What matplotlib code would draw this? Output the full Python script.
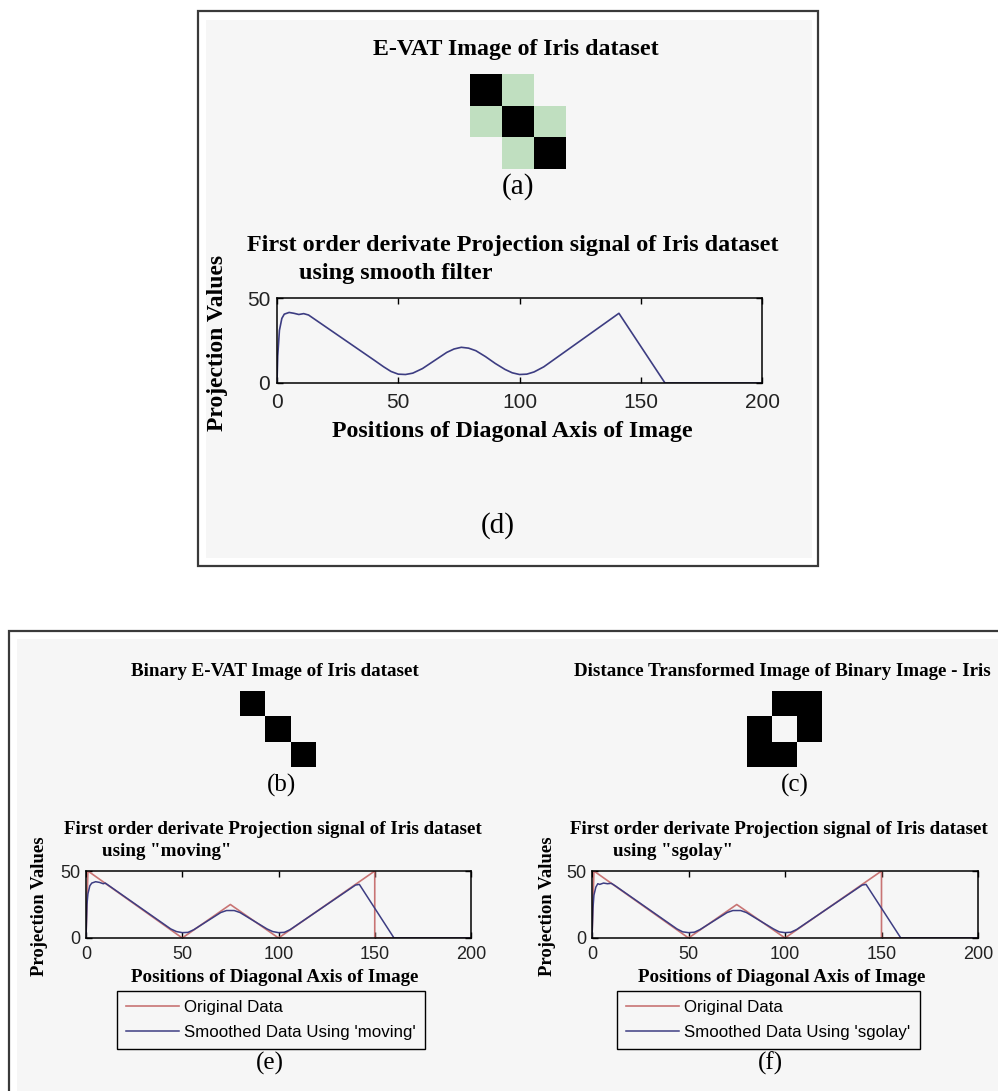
import numpy as np
import matplotlib
matplotlib.use("Agg")
import matplotlib.pyplot as plt
from matplotlib.colors import ListedColormap
from matplotlib.patches import Rectangle

W, H = 998, 1091

# image panels (0 = empty cell)
evat_img = [[2, 1, 0], [1, 2, 1], [0, 1, 2]]      # 1 light green, 2 black
binary_img = [[1, 0, 0], [0, 1, 0], [0, 0, 1]]
dist_img = [[0, 1, 1], [1, 0, 1], [1, 1, 0]]

# original projection signal
orig_x = [0, 1, 50, 75, 100, 150, 150, 200]
orig_y = [0, 50, 0, 25, 0, 50, 0, 0]

# smooth filter (panel d)
smooth_x = [0, 0.3, 1, 2, 3, 5, 7, 9, 11, 13, 40, 44, 47, 50, 53, 56, 60, 66, 70,
            73, 76, 79, 82, 86, 90, 94, 97, 100, 103, 106, 110, 141, 160, 200]
smooth_y = [0, 16, 31, 38, 40.5, 41.5, 41, 40.3, 40.8, 40, 13.5, 9.5, 6.8, 5.2, 5,
            5.8, 8.5, 14.2, 18, 20, 21, 20.5, 19, 15.5, 11.5, 8, 6, 5, 5.2, 6.5,
            9.5, 41, 0, 0]

# 'moving' (panel e)
moving_x = [0, 0.5, 1, 2, 3, 5, 7, 9, 10, 12, 44, 47, 50, 53, 56, 70, 73, 77, 80,
            94, 97, 100, 103, 106, 140, 142, 160, 200]
moving_y = [0, 25, 33, 39, 41, 42, 41.5, 40.5, 41, 39, 6.8, 4.8, 4, 4.2, 6.2, 19,
            20.5, 20.5, 19, 6.8, 4.8, 4, 4.2, 6.2, 39.5, 40, 0, 0]

# 'sgolay' (panel f)
sgolay_x = [0, 0.5, 1, 2, 3, 4, 6, 8, 10, 12, 44, 47, 50, 53, 56, 70, 73, 77, 80,
            94, 97, 100, 103, 106, 140, 142, 160, 200]
sgolay_y = [0, 22, 32, 38, 40.5, 40, 41, 40.5, 40.8, 39, 6.8, 4.6, 4, 4.3, 6.3,
            19, 20.5, 20.5, 19, 6.8, 4.6, 4, 4.3, 6.3, 39.5, 40, 0, 0]

xticks = [0, 50, 100, 150, 200]
yticks = [0, 50]

RED = "#c87474"
BLUE = "#3d3d82"
BG = "#f6f6f6"
SERIF = "Liberation Serif"
SANS = "Liberation Sans"

fig = plt.figure(figsize=(W / 100, H / 100), dpi=100)
fig.patch.set_facecolor("white")


def frac(x0, y0, x1, y1):
    return [x0 / W, 1 - y1 / H, (x1 - x0) / W, (y1 - y0) / H]


def txt(x, y, s, size, weight="bold", ha="center", rot=0, family=SERIF):
    fig.text(x / W, 1 - y / H, s, fontsize=size, fontweight=weight, ha=ha,
             va="center", rotation=rot, family=family)


def box(x0, y0, x1, y1, **kw):
    fig.patches.append(Rectangle((x0 / W, 1 - y1 / H), (x1 - x0) / W, (y1 - y0) / H,
                                 transform=fig.transFigure, figure=fig, **kw))


def image_axes(rect, data, colors):
    ax = fig.add_axes(frac(*rect))
    arr = np.ma.masked_equal(np.array(data), 0)
    ax.imshow(arr, cmap=ListedColormap(colors), vmin=1, vmax=len(colors),
              interpolation="nearest", aspect="auto")
    ax.set_axis_off()
    ax.patch.set_alpha(0)
    return ax


def signal_axes(rect, tick_fs, xpad, ypad):
    ax = fig.add_axes(frac(*rect))
    ax.set_facecolor("none")
    ax.set_xlim(0, 200)
    ax.set_ylim(0, 50)
    ax.set_xticks(xticks)
    ax.set_yticks(yticks)
    ax.tick_params(direction="in", top=True, right=True, length=4, width=1,
                   labelsize=tick_fs, labelcolor="#222222")
    ax.tick_params(axis="x", pad=xpad)
    ax.tick_params(axis="y", pad=ypad)
    for lab in ax.get_xticklabels() + ax.get_yticklabels():
        lab.set_family(SANS)
    for sp in ax.spines.values():
        sp.set_linewidth(1.1)
    return ax


# frames and light gray backgrounds
box(206, 20, 812, 558, facecolor=BG, edgecolor="none", zorder=-10)
box(198, 11, 818, 566, facecolor="none", edgecolor="#3a3a3a", lw=1.6, zorder=-5)
box(17, 639, 998, 1091, facecolor=BG, edgecolor="none", zorder=-10)
box(9, 631, 1010, 1100, facecolor="none", edgecolor="#3a3a3a", lw=1.6, zorder=-5)

# ---------------- top panel: (a) and (d) ----------------
txt(516, 50, "E-VAT Image of Iris dataset", 17.2)
image_axes((470, 74, 566, 169), evat_img, ["#c0dfc0", "black"])
txt(518, 187, "(a)", 21, weight="normal")

ax = signal_axes((277, 298, 762, 383), 15, 7, 5)
ax.plot(smooth_x, smooth_y, color=BLUE, lw=1.2)
txt(513, 246, "First order derivate Projection signal of Iris dataset", 17.4)
txt(299, 273, "using smooth filter", 17.4, ha="left")
txt(512, 432, "Positions of Diagonal Axis of Image", 17.2)
txt(218, 343, "Projection Values", 17, rot=90)
txt(498, 526, "(d)", 21, weight="normal")

# ---------------- bottom panels: (b)/(e) and (c)/(f) ----------------
panels = [
    dict(title="Binary E-VAT Image of Iris dataset", tx=275, img=binary_img,
         irect=(240, 691, 316, 767), tag="(b)", tagx=282,
         arect=(86, 871, 471, 938), l1x=273, l2x=102, name="moving",
         sx=moving_x, sy=moving_y, xlx=275, ylx=40, leg=117, tag2="(e)", tag2x=270),
    dict(title="Distance Transformed Image of Binary Image - Iris", tx=782,
         img=dist_img, irect=(747, 691, 822, 767), tag="(c)", tagx=795,
         arect=(592, 871, 978, 938), l1x=779, l2x=613, name="sgolay",
         sx=sgolay_x, sy=sgolay_y, xlx=782, ylx=547, leg=617, tag2="(f)", tag2x=770),
]

for p in panels:
    txt(p["tx"], 672, p["title"], 13.7)
    image_axes(p["irect"], p["img"], ["black"])
    txt(p["tagx"], 785, p["tag"], 18, weight="normal")

    ax = signal_axes(p["arect"], 13, 6, 4)
    ax.plot(orig_x, orig_y, color=RED, lw=1.2, label="Original Data")
    ax.plot(p["sx"], p["sy"], color=BLUE, lw=1.1,
            label="Smoothed Data Using '%s'" % p["name"])
    txt(p["l1x"], 829, "First order derivate Projection signal of Iris dataset", 13.7)
    txt(p["l2x"], 852, 'using "%s"' % p["name"], 13.7, ha="left")
    txt(p["xlx"], 978, "Positions of Diagonal Axis of Image", 13.7)
    txt(p["ylx"], 906, "Projection Values", 13.5, rot=90)

    leg = ax.legend(loc="upper left", bbox_to_anchor=(p["leg"] / W, 1 - 991 / H),
                    bbox_transform=fig.transFigure, borderaxespad=0,
                    prop={"family": SANS, "size": 12.2}, handlelength=3.1,
                    handletextpad=0.3, borderpad=0.55, labelspacing=0.55,
                    fancybox=False, edgecolor="black", facecolor=BG, framealpha=1)
    leg.get_frame().set_linewidth(1.0)
    txt(p["tag2x"], 1063, p["tag2"], 18, weight="normal")

fig.savefig("out.png", dpi=100, facecolor=fig.get_facecolor())
